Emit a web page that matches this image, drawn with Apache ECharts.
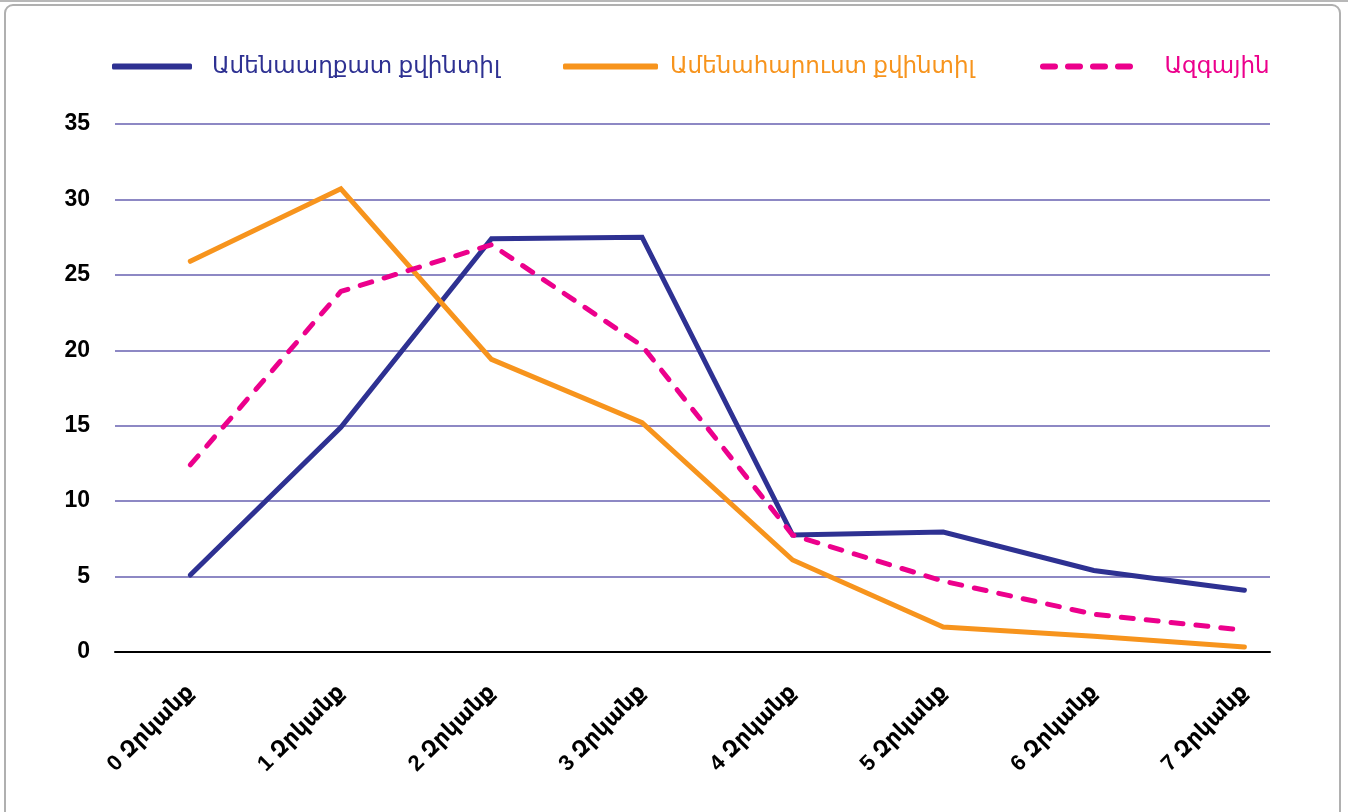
<!DOCTYPE html>
<html>
<head>
<meta charset="utf-8">
<script src="https://cdn.jsdelivr.net/npm/echarts@6/dist/echarts.min.js"></script>
<style>
	html, body { margin: 0; padding: 0; background: #fff; }
	#frame {
		position: absolute; left: 4px; top: 4px; width: 1337px; height: 830px;
		border: 2px solid #b0b0b0; border-radius: 9px; box-sizing: border-box;
	}
	#topline { position: absolute; left: 0; top: 0; width: 1348px; height: 2px; background: #b8b8b8; }
	#chart { position: absolute; left: 0; top: 0; width: 1348px; height: 812px; }
</style>
</head>
<body>
<div id="topline"></div>
<div id="frame"></div>
<div id="chart"></div>
<script>
// Categories (number of deprivations)
const categories = ['0 Զրկանք', '1 Զրկանք', '2 Զրկանք', '3 Զրկանք', '4 Զրկանք', '5 Զրկանք', '6 Զրկանք', '7 Զրկանք'];

// Series values (%)
const poorest = [5.1, 14.9, 27.4, 27.5, 7.75, 7.95, 5.4, 4.1];
const richest = [25.9, 30.7, 19.4, 15.2, 6.1, 1.65, 1.05, 0.33];
const national = [12.4, 23.9, 27.0, 20.3, 7.75, 4.7, 2.5, 1.45];

const seriesNames = ['Ամենաաղքատ քվինտիլ', 'Ամենահարուստ քվինտիլ', 'Ազգային'];
const colors = ['#2E3192', '#F7941D', '#EC008C'];

const font = "'Liberation Sans', Arial, 'DejaVu Sans', sans-serif";

// legend icons: solid bar and four dashes
const solidIcon = 'roundRect';
const dashIcon = 'path://M3,0h12a3,3 0 0 1 0,6h-12a3,3 0 0 1 0,-6z' +
	'M28,0h12a3,3 0 0 1 0,6h-12a3,3 0 0 1 0,-6z' +
	'M53,0h12a3,3 0 0 1 0,6h-12a3,3 0 0 1 0,-6z' +
	'M78,0h12a3,3 0 0 1 0,6h-12a3,3 0 0 1 0,-6z';

const chart = echarts.init(document.getElementById('chart'));

function legend(i, left, width, gap, icon) {
	return {
		left: left, top: 55,
		itemWidth: width, itemHeight: 6,
		padding: 0,
		icon: icon,
		itemStyle: { color: colors[i] },
		data: [seriesNames[i]],
		textStyle: {
			color: colors[i], fontSize: 23, fontWeight: 'normal', fontFamily: font,
			padding: [0, 0, 0, gap]
		}
	};
}

const option = {
	animation: false,
	legend: [
		legend(0, 112, 80, 15, solidIcon),
		legend(1, 563, 95, 7, solidIcon),
		legend(2, 1040, 94, 26, dashIcon)
	],
	grid: { left: 115, right: 78, top: 124, bottom: 160 },
	xAxis: {
		type: 'value',
		min: -0.5,
		max: 7.17,
		splitLine: { show: false },
		axisLine: { show: true, lineStyle: { color: '#000', width: 2 } },
		axisTick: { show: false },
		axisLabel: {
			customValues: categories.map((c, i) => i),
			formatter: v => categories[v],
			rotate: 45,
			margin: 37,
			color: '#000',
			fontSize: 22,
			fontWeight: 'bold',
			fontFamily: font
		}
	},
	yAxis: {
		type: 'value',
		min: 0, max: 35, interval: 5,
		axisLine: { show: false },
		axisTick: { show: false },
		splitLine: { lineStyle: { color: '#8D88C4', width: 2 } },
		axisLabel: {
			margin: 25, color: '#000', fontSize: 23, fontWeight: 'bold', fontFamily: font
		}
	},
	series: [
		{
			name: seriesNames[0], type: 'line', symbol: 'none',
			data: poorest.map((v, i) => [i, v]),
			lineStyle: { color: colors[0], width: 5, cap: 'round', join: 'miter' },
			itemStyle: { color: colors[0] }
		},
		{
			name: seriesNames[1], type: 'line', symbol: 'none',
			data: richest.map((v, i) => [i, v]),
			lineStyle: { color: colors[1], width: 5, cap: 'round', join: 'miter' },
			itemStyle: { color: colors[1] }
		},
		{
			name: seriesNames[2], type: 'line', symbol: 'none',
			data: national.map((v, i) => [i, v]),
			lineStyle: { color: colors[2], width: 5, type: [12, 13], cap: 'round' },
			itemStyle: { color: colors[2] }
		}
	]
};

chart.setOption(option);
</script>
</body>
</html>
